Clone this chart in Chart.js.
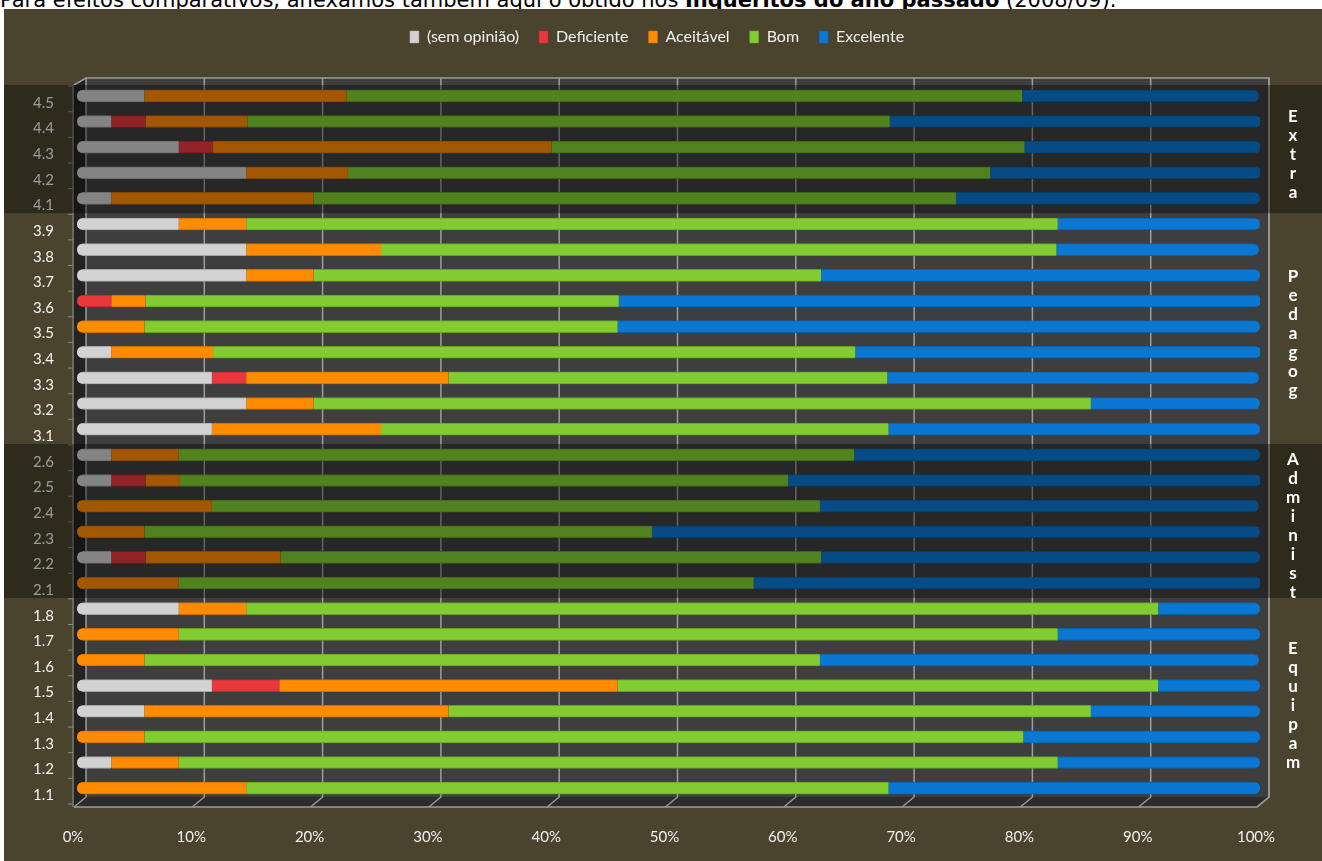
<!DOCTYPE html>
<html>
<head>
<meta charset="utf-8">
<script src="https://cdn.jsdelivr.net/npm/chart.js@4"></script>
<style>
  body { margin: 0; background: #fff; overflow: hidden; }
  #intro {
    position: absolute; left: 0; top: -13px; margin: 0;
    font: 21px "DejaVu Sans", sans-serif; line-height: 26px; color: #000; white-space: nowrap;
  }
  #panel {
    position: absolute; left: 4px; top: 9px; width: 1318px; height: 852px;
    background: #4a442e;
  }
</style>
</head>
<body>
<p id="intro">Para efeitos comparativos, anexamos também aqui o obtido nos <b>Inquéritos do ano passado</b> (2008/09).</p>
<div id="panel"><canvas id="surveyChart"></canvas></div>
<script>
// questions, top to bottom
const categories = [
    '4.5','4.4','4.3','4.2','4.1',
    '3.9','3.8','3.7','3.6','3.5','3.4','3.3','3.2','3.1',
    '2.6','2.5','2.4','2.3','2.2','2.1',
    '1.8','1.7','1.6','1.5','1.4','1.3','1.2','1.1'
];

// groups of questions (same order), and which ones get the dark band
const sections = ['Extra', 'Pedagog', 'Administ', 'Equipam'];
const sectionSizes = [5, 9, 6, 8];
const darkSections = ['Extra', 'Administ'];

// % of answers
const semOpiniao = [5.7,2.9,8.6,14.3,2.9, 8.6,14.3,14.3,0,0,2.9,11.4,14.3,11.4, 2.9,2.9,0,0,2.9,0, 8.6,0,0,11.4,5.7,0,2.9,0];
const deficiente = [0,2.9,2.9,0,0, 0,0,0,2.9,0,0,2.9,0,0, 0,2.9,0,0,2.9,0, 0,0,0,5.7,0,0,0,0];
const aceitavel  = [17.1,8.6,28.6,8.6,17.1, 5.7,11.4,5.7,2.9,5.7,8.6,17.1,5.7,14.3, 5.7,2.9,11.4,5.7,11.4,8.6, 5.7,8.6,5.7,28.6,25.7,5.7,5.7,14.3];
const bom        = [57.1,54.3,40.0,54.3,54.3, 68.6,57.1,42.9,40.0,40.0,54.3,37.1,65.7,42.9, 57.1,51.4,51.4,42.9,45.7,48.6, 77.1,74.3,57.1,45.7,54.3,74.3,74.3,54.3];
const excelente  = [20.0,31.4,20.0,22.9,25.7, 17.1,17.1,37.1,54.3,54.3,34.3,31.4,14.3,31.4, 34.3,40.0,37.1,51.4,37.1,42.9, 8.6,17.1,37.1,8.6,14.3,20.0,17.1,31.4];

const xTickValues = [0,10,20,30,40,50,60,70,80,90,100];

// round only the outer ends of each stacked row
function rowRadius(ctx) {
    const i = ctx.dataIndex;
    const sets = ctx.chart.data.datasets;
    let first = -1, last = -1;
    sets.forEach(function(s, k) {
        if (s.data[i] > 0) {
            if (first < 0) first = k;
            last = k;
        }
    });
    const r = 6;
    const d = ctx.datasetIndex;
    return {
        topLeft: d === first ? r : 0,
        bottomLeft: d === first ? r : 0,
        topRight: d === last ? r : 0,
        bottomRight: d === last ? r : 0
    };
}

// fake 3d box: back wall, side wall, floor and grid lines
const box3d = {
    id: 'box3d',
    beforeDatasetsDraw(chart) {
        const c = chart.ctx;
        const a = chart.chartArea;
        const x = chart.scales.x;
        const y = chart.scales.y;
        const dx = 9, dy = 5;
        c.save();

        // back wall
        c.fillStyle = '#3e3e3e';
        c.fillRect(a.left + dx, a.top - dy, a.right - a.left, a.bottom - a.top + 1);

        // left side wall
        c.fillStyle = '#232323';
        c.beginPath();
        c.moveTo(a.left - 3, a.top + 2);
        c.lineTo(a.left + dx, a.top - dy);
        c.lineTo(a.left + dx, a.bottom - 4);
        c.lineTo(a.left - 3, a.bottom + 6);
        c.closePath();
        c.fill();

        // floor
        c.fillStyle = '#2c2c2c';
        c.beginPath();
        c.moveTo(a.left - 3, a.bottom + 6);
        c.lineTo(a.left + dx, a.bottom - 4);
        c.lineTo(a.right + dx, a.bottom - 4);
        c.lineTo(a.right - 3, a.bottom + 6);
        c.closePath();
        c.fill();

        // grid lines on the wall and floor
        c.strokeStyle = 'rgba(190,190,190,0.75)';
        c.lineWidth = 1.5;
        xTickValues.forEach(function(v) {
            const px = x.getPixelForValue(v);
            c.beginPath();
            c.moveTo(px + dx, a.top - dy);
            c.lineTo(px + dx, a.bottom - 4);
            c.lineTo(px - 3, a.bottom + 6);
            c.stroke();
        });

        // outline of the box
        c.strokeStyle = '#9a9a9a';
        c.lineWidth = 1.5;
        c.beginPath();
        c.moveTo(a.left - 3, a.top + 2);
        c.lineTo(a.left + dx, a.top - dy);
        c.lineTo(a.right + dx, a.top - dy);
        c.lineTo(a.right + dx, a.bottom - 4);
        c.lineTo(a.right - 3, a.bottom + 6);
        c.lineTo(a.left - 3, a.bottom + 6);
        c.stroke();

        // y axis line and tick marks
        c.strokeStyle = '#8c8c8c';
        c.lineWidth = 1;
        c.beginPath();
        c.moveTo(a.left - 4, a.top + 2);
        c.lineTo(a.left - 4, a.bottom + 6);
        const half = (y.getPixelForValue(1) - y.getPixelForValue(0)) / 2;
        for (let i = 0; i <= categories.length; i++) {
            const py = y.getPixelForValue(0) - half + i * half * 2 + 3;
            c.moveTo(a.left - 9, py);
            c.lineTo(a.left - 4, py);
        }
        c.stroke();
        c.restore();
    },

    afterDraw(chart) {
        const c = chart.ctx;
        const y = chart.scales.y;
        const half = (y.getPixelForValue(1) - y.getPixelForValue(0)) / 2;
        c.save();
        let start = 0;
        sections.forEach(function(name, k) {
            const end = start + sectionSizes[k] - 1;
            const top = y.getPixelForValue(start) - half + 2;
            const bottom = y.getPixelForValue(end) + half + 2;
            if (darkSections.includes(name)) {
                c.fillStyle = 'rgba(0,0,0,0.37)';
                c.fillRect(0, top, chart.width, bottom - top);
            }
            // section name, one letter per line
            const mid = (top + bottom) / 2 + 5;
            const step = 19;
            c.fillStyle = '#ffffff';
            c.font = 'bold 17px Lato';
            c.textAlign = 'center';
            c.textBaseline = 'middle';
            const letters = name.split('');
            letters.forEach(function(ch, j) {
                c.fillText(ch, 1289, mid + (j - (letters.length - 1) / 2) * step);
            });
            start = end + 1;
        });
        c.restore();
    }
};

// taller legend block so the plot starts lower, centred over the whole panel
const legendSpace = {
    id: 'legendSpace',
    beforeInit(chart) {
        const fit = chart.legend.fit;
        chart.legend.fit = function() {
            fit.bind(chart.legend)();
            this.height = 74;
        };
    },
    afterLayout(chart) {
        chart.legend.left += 25;
        chart.legend.right += 25;
    }
};

const ctx = document.getElementById('surveyChart');

new Chart(ctx, {
    type: 'bar',

    data: {
        labels: categories,
        datasets: [
            { label: '(sem opinião)', data: semOpiniao, backgroundColor: '#d2d2d2', borderColor: '#a8a8a8' },
            { label: 'Deficiente', data: deficiente, backgroundColor: '#e8383d', borderColor: '#b8282c' },
            { label: 'Aceitável', data: aceitavel, backgroundColor: '#ff8c00', borderColor: '#d06e00' },
            { label: 'Bom', data: bom, backgroundColor: '#82cc32', borderColor: '#62a420' },
            { label: 'Excelente', data: excelente, backgroundColor: '#0a78d2', borderColor: '#0860a8' }
        ]
    },

    options: {
        indexAxis: 'y',
        responsive: true,
        maintainAspectRatio: false,
        animation: false,

        layout: {
            padding: { top: 0, left: 0, right: 62, bottom: 0 }
        },

        datasets: {
            bar: {
                barThickness: 12,
                borderWidth: { top: 1, bottom: 1, left: 0, right: 0 },
                borderSkipped: false,
                borderRadius: rowRadius
            }
        },

        plugins: {
            legend: {
                position: 'top',
                labels: {
                    color: '#f0f0f0',
                    boxWidth: 9,
                    boxHeight: 12,
                    padding: 20,
                    font: { family: 'Lato', size: 16 }
                }
            },
            tooltip: { enabled: false }
        },

        scales: {
            x: {
                stacked: true,
                min: 0,
                max: 100,
                afterFit: function(scale) { scale.height = 60; },
                grid: { display: false, drawTicks: false },
                border: { display: false },
                ticks: {
                    stepSize: 10,
                    padding: 27,
                    labelOffset: -4,
                    color: '#f0f0f0',
                    font: { family: 'Lato', size: 15 },
                    callback: function(v) { return v + '%'; }
                }
            },
            y: {
                stacked: true,
                afterFit: function(scale) { scale.width = 73; },
                grid: { display: false, drawTicks: false },
                border: { display: false },
                ticks: {
                    padding: 23,
                    labelOffset: 7,
                    color: '#f2f2f2',
                    font: { family: 'Lato', size: 15 }
                }
            }
        }
    },

    plugins: [box3d, legendSpace]
});
</script>
</body>
</html>
